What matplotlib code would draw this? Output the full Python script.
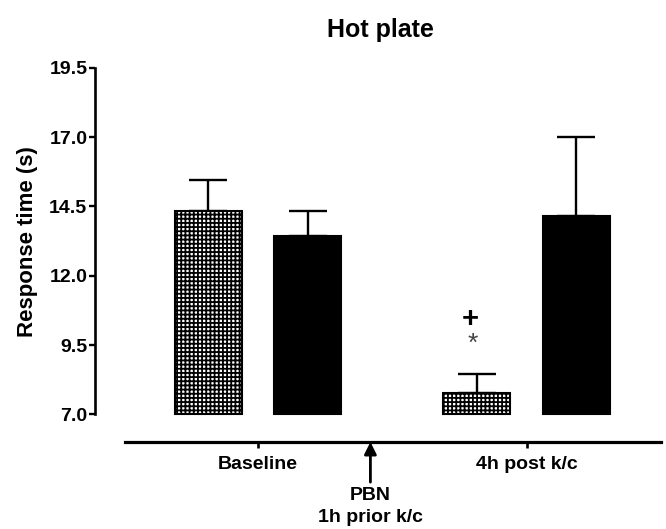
import matplotlib
matplotlib.use("Agg")
import matplotlib.pyplot as plt

# values (mean and upper SEM)
bar_pos = [0.0, 1.0, 2.7, 3.7]
means = [14.33, 13.45, 7.78, 14.15]
sems = [1.12, 0.88, 0.69, 2.85]
hatched = [True, False, True, False]
group_pos = [0.5, 3.2]
group_labels = ["Baseline", "4h post k/c"]
yticks = [7.0, 9.5, 12.0, 14.5, 17.0, 19.5]

plt.rcParams['font.family'] = ['Liberation Sans', 'DejaVu Sans']
plt.rcParams['font.weight'] = 'bold'
plt.rcParams['hatch.linewidth'] = 1.3

fig = plt.figure(figsize=(6.66, 5.29), dpi=100)
ax = fig.add_axes([0.1426, 0.1645, 0.857, 0.707])

base = 7.0
for x, m, h in zip(bar_pos, means, hatched):
    if h:
        ax.bar(x, m - base, bottom=base, width=0.67, color='white',
               edgecolor='black', hatch='++++', linewidth=1.5, zorder=2)
    else:
        ax.bar(x, m - base, bottom=base, width=0.67, color='black',
               edgecolor='black', linewidth=1.5, zorder=2)

ax.errorbar(bar_pos, means, yerr=[[0] * len(sems), sems], fmt='none',
            ecolor='black', elinewidth=1.7, capsize=13.5, capthick=1.7, zorder=1)

# significance marks over the 4h hatched bar
ax.text(2.63, 10.45, "+", ha='center', va='center', fontsize=21,
        fontweight='bold', color='black')
ax.text(2.66, 9.55, "*", ha='center', va='center', fontsize=19,
        fontweight='normal', color='#444444')

ax.set_xlim(-1.14, 4.60)
ax.set_ylim(6.0, 19.5)

ax.spines['top'].set_visible(False)
ax.spines['right'].set_visible(False)
ax.spines['left'].set_bounds(7.0, 19.5)
ax.spines['left'].set_linewidth(1.9)
ax.spines['bottom'].set_bounds(-0.84, 4.55)
ax.spines['bottom'].set_linewidth(2.3)

ax.set_yticks(yticks)
ax.set_yticklabels(["%.1f" % v for v in yticks], fontsize=14, fontweight='bold')
ax.tick_params(axis='y', direction='out', length=4.5, width=1.7, pad=1)

ax.set_xticks(group_pos)
ax.set_xticklabels(group_labels, fontsize=14, fontweight='bold')
ax.tick_params(axis='x', direction='out', length=4, width=1.9, pad=6)

# label centred on the drawn part of the y axis (7.0 - 19.5)
ax.set_ylabel("Response time (s)", fontsize=16, fontweight='bold', labelpad=8,
              y=0.537)
ax.set_title("Hot plate", fontsize=18, fontweight='bold', pad=22)

# PBN arrow under the axis
ax.annotate("", xy=(1.63, 6.0), xytext=(1.63, 4.55),
            arrowprops=dict(arrowstyle='-|>', color='black', lw=2,
                            mutation_scale=18, shrinkA=0, shrinkB=0),
            annotation_clip=False)
ax.text(1.63, 4.38, "PBN\n1h prior k/c", ha='center', va='top', fontsize=14,
        fontweight='bold', linespacing=1.4, clip_on=False)

fig.savefig("out.png", dpi=100)
